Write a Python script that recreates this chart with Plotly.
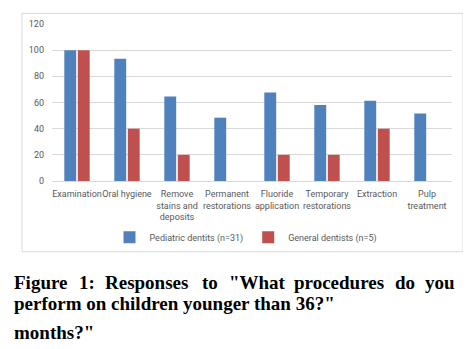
import plotly.graph_objects as go

categories = ["Examination", "Oral hygiene", "Remove<br>stains and<br>deposits",
              "Permanent<br>restorations", "Fluoride<br>application",
              "Temporary<br>restorations", "Extraction", "Pulp<br>treatment"]
pediatric = [100, 93.5, 64.5, 48.4, 67.7, 58.1, 61.3, 51.6]
general = [100, 40, 20, 0, 20, 20, 40, 0]
series_names = ["Pediatric dentits (n=31)", "General dentists (n=5)"]
y_ticks = [0, 20, 40, 60, 80, 100, 120]

caption_line1 = ["Figure", "1:", "Responses", "to", "\"What", "procedures", "do", "you"]
caption_line2 = "perform on children younger than 36?\""
caption_line3 = "months?\""

OFF = 8  # default page body margin
W, H = 471 - OFF, 349 - OFF
PLOT_L, PLOT_R, PLOT_T, PLOT_B = 52, 452, 19, 181  # in screenshot pixels
L = PLOT_L - OFF
T = PLOT_T - OFF
R = W - (PLOT_R - OFF)
B = H - (PLOT_B - OFF)
PW, PH = PLOT_R - PLOT_L, PLOT_B - PLOT_T


def px(x):
    return (x - PLOT_L) / PW


def py(y):
    return (PLOT_B - y) / PH


fig = go.Figure()
fig.add_trace(go.Bar(x=categories, y=pediatric, name=series_names[0],
                     marker=dict(color="#4F81BD", line=dict(width=0))))
fig.add_trace(go.Bar(x=categories, y=general, name=series_names[1],
                     marker=dict(color="#C0504D", line=dict(width=0))))

grey = "#595959"
fig.update_layout(
    width=W, height=H, autosize=False,
    margin=dict(l=L, r=R, t=T, b=B, pad=0),
    paper_bgcolor="white", plot_bgcolor="white",
    barmode="group", bargap=0.46, bargroupgap=0.12,
    font=dict(family="Roboto", size=9, color=grey),
    legend=dict(orientation="h", x=px(246), xanchor="center", y=py(239), yanchor="middle",
                font=dict(size=9, color=grey), itemwidth=30, tracegroupgap=0,
                bgcolor="rgba(0,0,0,0)"),
    showlegend=True,
)
fig.update_xaxes(tickangle=0, showgrid=False, showline=True, linecolor="#D9D9D9",
                 linewidth=1, ticks="", tickfont=dict(size=9, color=grey),
                 ticklabelstandoff=4)
fig.update_yaxes(range=[0, 120], tickvals=y_ticks, showgrid=True, gridcolor="#D9D9D9",
                 gridwidth=1, zeroline=False, showline=False, ticks="",
                 tickfont=dict(size=9, color=grey), ticklabelstandoff=7)

# chart border
fig.add_shape(type="rect", xref="paper", yref="paper",
              x0=px(22), x1=px(463), y0=py(254), y1=py(8),
              line=dict(color="#D9D9D9", width=1), fillcolor="rgba(0,0,0,0)")

cap_font = dict(family="Liberation Serif", size=19, color="black")
starts = [12, 77, 103, 200, 227, 292, 393, 423]
for word, sx in zip(caption_line1, starts):
    fig.add_annotation(text="<b>%s</b>" % word, xref="paper", yref="paper",
                       x=px(sx), y=py(286), xanchor="left", yanchor="middle",
                       showarrow=False, font=cap_font)
fig.add_annotation(text="<b>%s</b>" % caption_line2, xref="paper", yref="paper",
                   x=px(12), y=py(307), xanchor="left", yanchor="middle",
                   showarrow=False, font=cap_font)
fig.add_annotation(text="<b>%s</b>" % caption_line3, xref="paper", yref="paper",
                   x=px(12), y=py(337), xanchor="left", yanchor="middle",
                   showarrow=False, font=cap_font)

fig.write_html("out.html")
